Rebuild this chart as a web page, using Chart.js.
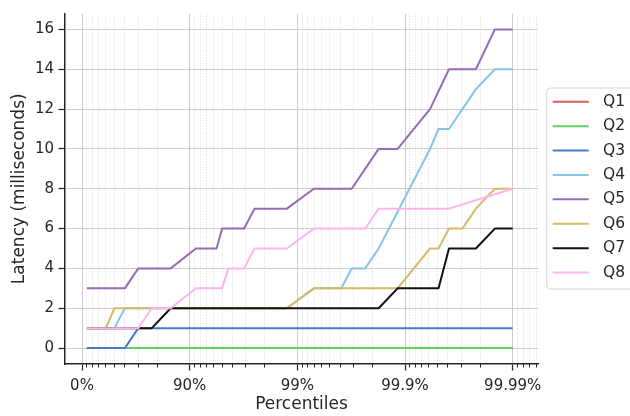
<!DOCTYPE html>
<html>
<head>
<meta charset="utf-8">
<script src="https://cdn.jsdelivr.net/npm/chart.js@4.4.1/dist/chart.umd.min.js"></script>
<style>
  html, body { margin: 0; padding: 0; background: #ffffff; }
  #wrap { width: 630px; height: 416px; }
</style>
</head>
<body>
<div id="wrap"><canvas id="c" width="630" height="416"></canvas></div>
<script>
// ---------------- data ----------------
const seriesNames = ['Q1', 'Q2', 'Q3', 'Q4', 'Q5', 'Q6', 'Q7', 'Q8'];
const seriesColors = ['#d65f5f', '#6acc64', '#4878d0', '#82c6e2', '#956cb4', '#d5bb67', '#111111', '#ffb3ef'];

// percentile (%) and latency (ms) for each query
const Q1_pct = [10, 99.99];
const Q1_ms  = [0, 0];
const Q2_pct = [10, 99.99];
const Q2_ms  = [0, 0];
const Q3_pct = [10, 60, 70, 99.99];
const Q3_ms  = [0, 0, 1, 1];
const Q4_pct = [10, 50, 60, 98.75, 99.296875, 99.609375, 99.6875, 99.765625, 99.82421875, 99.94140625, 99.951171875, 99.9609375, 99.97802734375, 99.9853515625, 99.99];
const Q4_ms  = [1, 1, 2, 2, 3, 3, 4, 4, 5, 10, 11, 11, 13, 14, 14];
const Q5_pct = [10, 60, 70, 85, 91.25, 94.375, 95, 96.875, 97.5, 98.75, 99.296875, 99.6875, 99.82421875, 99.8828125, 99.94140625, 99.9609375, 99.97802734375, 99.9853515625, 99.99];
const Q5_ms  = [3, 3, 4, 4, 5, 5, 6, 6, 7, 7, 8, 8, 10, 10, 12, 14, 14, 16, 16];
const Q6_pct = [10, 40, 50, 98.75, 99.296875, 99.8828125, 99.94140625, 99.951171875, 99.9609375, 99.970703125, 99.97802734375, 99.9853515625, 99.99];
const Q6_ms  = [1, 1, 2, 2, 3, 3, 5, 5, 6, 6, 7, 8, 8];
const Q7_pct = [10, 77.5, 85, 99.82421875, 99.8828125, 99.951171875, 99.9609375, 99.97802734375, 99.9853515625, 99.99];
const Q7_ms  = [1, 1, 2, 2, 3, 3, 5, 5, 6, 6];
const Q8_pct = [10, 70, 77.5, 85, 91.25, 95, 95.625, 96.875, 97.5, 98.75, 99.296875, 99.765625, 99.82421875, 99.9609375, 99.99];
const Q8_ms  = [1, 1, 2, 2, 3, 3, 4, 4, 5, 5, 6, 6, 7, 7, 8];

const seriesPct = [Q1_pct, Q2_pct, Q3_pct, Q4_pct, Q5_pct, Q6_pct, Q7_pct, Q8_pct];
const seriesMs  = [Q1_ms, Q2_ms, Q3_ms, Q4_ms, Q5_ms, Q6_ms, Q7_ms, Q8_ms];

// axis ticks
const xTickPct    = [0, 90, 99, 99.9, 99.99];
const xTickLabels = ['0%', '90%', '99%', '99.9%', '99.99%'];
const xMinorFrac  = [10, 20, 30, 40, 50, 60, 70, 80];   // minor ticks inside each decade
const yTicks      = [0, 2, 4, 6, 8, 10, 12, 14, 16];

// ---------------- helpers ----------------
// percentile -> position on the "nines" axis
const pctToPos = p => -Math.log10(1 - p / 100);
const X_MIN = -0.158, X_MAX = 4.235;
const Y_MIN = -0.8, Y_MAX = 16.8;

const minorPositions = [];
for (let d = 0; d < xTickPct.length; d++) {
  xMinorFrac.forEach(f => {
    const u = d + pctToPos(f);
    if (u <= X_MAX) minorPositions.push(u);
  });
}

const FONT = "'DejaVu Sans', 'Liberation Sans', sans-serif";
const TXT = '#262626';
Chart.defaults.font.family = FONT;
Chart.defaults.color = TXT;

const datasets = seriesNames.map((name, i) => ({
  label: name,
  data: seriesPct[i].map((p, j) => ({ x: pctToPos(p), y: seriesMs[i][j] })),
  borderColor: seriesColors[i],
  backgroundColor: seriesColors[i],
  borderWidth: 2,
  pointRadius: 0,
  pointHoverRadius: 0,
  tension: 0,
  fill: false,
  borderJoinStyle: 'round',
  order: seriesNames.length - i,
  xAxisID: 'x',
  yAxisID: 'y'
}));

// place the legend next to the plot, centred on the plot area
const legendPlacement = {
  id: 'legendPlacement',
  afterLayout(chart) {
    const lg = chart.legend, ca = chart.chartArea;
    if (!lg) return;
    lg.left = ca.right + 5.8;
    lg.right = chart.width - 5;
    lg.width = lg.right - lg.left;
    lg.top = ca.top - 3.2;
    lg.bottom = ca.bottom;
    lg.height = lg.bottom - lg.top;
  },
  beforeDraw(chart) {
    const lg = chart.legend;
    const hb = lg && lg.legendHitBoxes;
    if (!hb || !hb.length) return;
    const first = hb[0], last = hb[hb.length - 1];
    const x0 = lg.left + 2.9, y0 = first.top - 6;
    const x1 = chart.width + 10, y1 = last.top + last.height + 8.75;
    const r = 4;
    const ctx = chart.ctx;
    ctx.save();
    ctx.beginPath();
    ctx.moveTo(x0 + r, y0);
    ctx.lineTo(x1 - r, y0);
    ctx.arcTo(x1, y0, x1, y0 + r, r);
    ctx.lineTo(x1, y1 - r);
    ctx.arcTo(x1, y1, x1 - r, y1, r);
    ctx.lineTo(x0 + r, y1);
    ctx.arcTo(x0, y1, x0, y1 - r, r);
    ctx.lineTo(x0, y0 + r);
    ctx.arcTo(x0, y0, x0 + r, y0, r);
    ctx.closePath();
    ctx.fillStyle = 'rgba(255,255,255,0.8)';
    ctx.fill();
    ctx.lineWidth = 1;
    ctx.strokeStyle = '#d3d3d3';
    ctx.stroke();
    ctx.restore();
  }
};

new Chart(document.getElementById('c'), {
  type: 'line',
  data: { datasets },
  options: {
    responsive: false,
    animation: false,
    devicePixelRatio: 1,
    events: [],
    layout: { padding: { top: 12, right: 12, bottom: 0, left: 0 } },
    scales: {
      xMinor: {
        type: 'linear',
        position: 'bottom',
        axis: 'x',
        weight: 0,
        min: X_MIN,
        max: X_MAX,
        afterBuildTicks: s => { s.ticks = minorPositions.map(v => ({ value: v })); },
        afterFit: s => { s.height = 0; },
        ticks: { display: false, autoSkip: false },
        grid: {
          color: 'rgba(175,175,175,0.55)',
          lineWidth: 0.8,
          tickLength: 3.5,
          tickColor: TXT,
          tickWidth: 1
        },
        border: { display: false, dash: [1, 1.6] }
      },
      x: {
        type: 'linear',
        position: 'bottom',
        weight: 1,
        min: X_MIN,
        max: X_MAX,
        afterBuildTicks: s => { s.ticks = xTickPct.map(p => ({ value: pctToPos(p) })); },
        afterFit: s => { s.height = 52; },
        ticks: {
          autoSkip: false,
          maxRotation: 0,
          padding: 6.3,
          font: { family: FONT, size: 15 },
          color: TXT,
          callback: (v, i) => xTickLabels[i]
        },
        grid: {
          color: '#cccccc',
          lineWidth: 1,
          tickLength: 6.5,
          tickColor: TXT,
          tickWidth: 1.25
        },
        border: { display: true, color: TXT, width: 1.5 },
        title: {
          display: true,
          text: 'Percentiles',
          font: { family: FONT, size: 17 },
          color: TXT,
          padding: { top: 0, bottom: 1.6 }
        }
      },
      y: {
        type: 'linear',
        position: 'left',
        min: Y_MIN,
        max: Y_MAX,
        afterBuildTicks: s => { s.ticks = yTicks.map(v => ({ value: v })); },
        afterFit: s => { s.width = 65; },
        ticks: {
          padding: 4.5,
          font: { family: FONT, size: 15 },
          color: TXT,
          callback: v => String(v)
        },
        grid: {
          color: '#cccccc',
          lineWidth: 1,
          tickLength: 6.5,
          tickColor: TXT,
          tickWidth: 1.25
        },
        border: { display: true, color: TXT, width: 1.5 },
        title: {
          display: true,
          text: 'Latency (milliseconds)',
          font: { family: FONT, size: 17 },
          color: TXT,
          padding: { top: 9.3, bottom: 0 }
        }
      }
    },
    plugins: {
      tooltip: { enabled: false },
      legend: {
        display: true,
        position: 'right',
        align: 'center',
        maxWidth: 80,
        labels: {
          font: { family: FONT, size: 15.5 },
          color: TXT,
          boxWidth: 36,
          boxHeight: 2,
          padding: 8.9,
          textAlign: 'right',
          sort: (a, b) => a.datasetIndex - b.datasetIndex,
          generateLabels: chart =>
            Chart.defaults.plugins.legend.labels.generateLabels(chart).map(it => ({
              ...it, fillStyle: it.strokeStyle, lineWidth: 0
            }))
        }
      }
    }
  },
  plugins: [legendPlacement]
});
</script>
</body>
</html>
